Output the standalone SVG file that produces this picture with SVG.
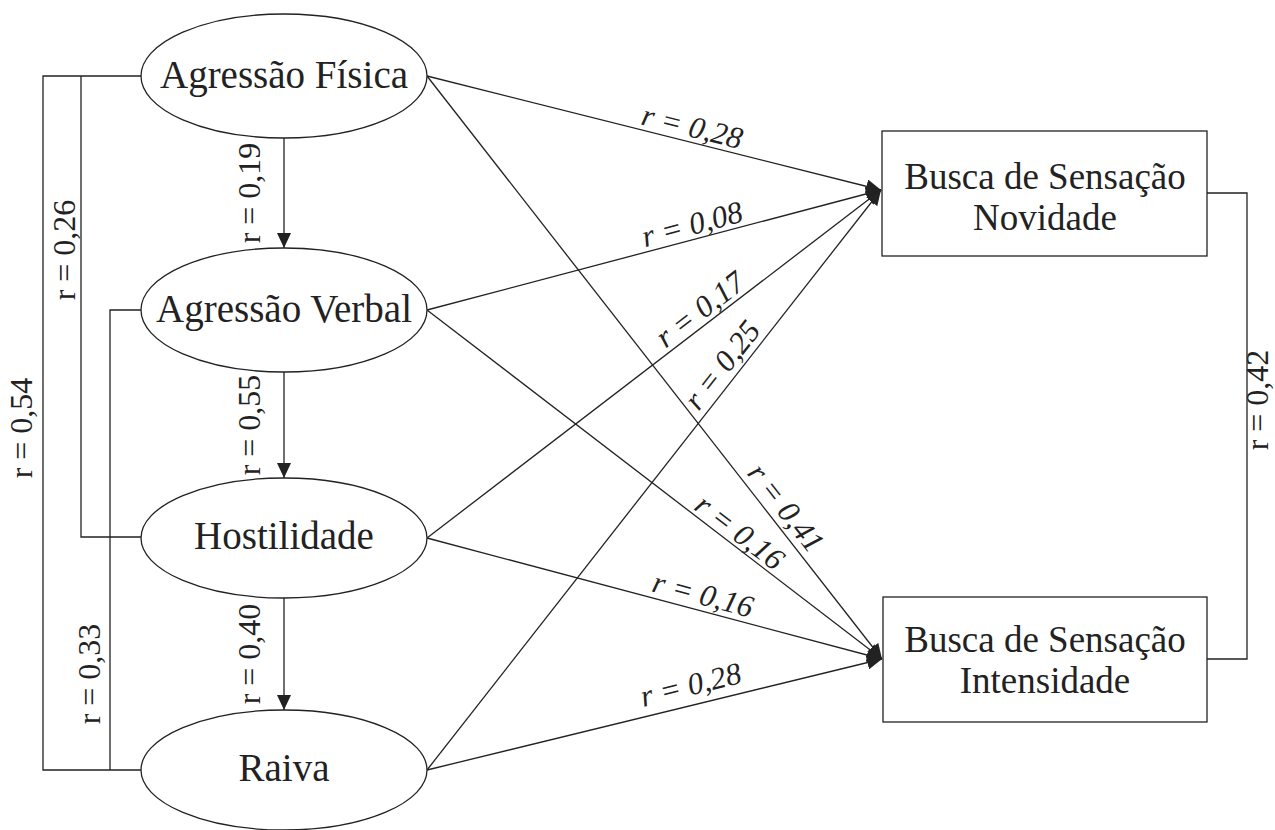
<svg xmlns="http://www.w3.org/2000/svg" width="1275" height="830" viewBox="0 0 1275 830">
<style>
.shape{fill:#fff;stroke:#222;stroke-width:1.3}
.ln{fill:none;stroke:#222;stroke-width:1.3}
.nt{font-family:"Liberation Serif",serif;font-size:39px;fill:#222;text-anchor:middle}
.rt{font-size:37px}
.lb{font-family:"Liberation Serif",serif;font-size:32px;fill:#222;text-anchor:middle}
.it{font-style:italic;font-size:31px}
</style>
<defs>
<marker id="ah" markerUnits="userSpaceOnUse" markerWidth="16" markerHeight="14" refX="15" refY="7" orient="auto">
<path d="M0,0 L15,7 L0,14 Z" fill="#222"/>
</marker>
</defs>
<rect width="1275" height="830" fill="#fff"/>
<g id="connectors">
<path class="ln" d="M141,76 H43 V770 H141"/>
<path class="ln" d="M81,76 V537 H141"/>
<path class="ln" d="M141,310 H110 V770"/>
<path class="ln" d="M1207,193 H1247 V659 H1207"/>
<line class="ln" x1="284" y1="138" x2="284" y2="248" marker-end="url(#ah)"/>
<line class="ln" x1="284" y1="372" x2="284" y2="478" marker-end="url(#ah)"/>
<line class="ln" x1="284" y1="598" x2="284" y2="710" marker-end="url(#ah)"/>
<line class="ln" x1="427" y1="76" x2="881" y2="190" marker-end="url(#ah)"/>
<line class="ln" x1="427" y1="310" x2="881" y2="190" marker-end="url(#ah)"/>
<line class="ln" x1="427" y1="538" x2="881" y2="190" marker-end="url(#ah)"/>
<line class="ln" x1="427" y1="770" x2="881" y2="190" marker-end="url(#ah)"/>
<line class="ln" x1="427" y1="76" x2="882" y2="659" marker-end="url(#ah)"/>
<line class="ln" x1="427" y1="310" x2="882" y2="659" marker-end="url(#ah)"/>
<line class="ln" x1="427" y1="538" x2="882" y2="659" marker-end="url(#ah)"/>
<line class="ln" x1="427" y1="770" x2="882" y2="659" marker-end="url(#ah)"/>
<text class="lb it" transform="translate(688.5,141.5) rotate(14.1)" y="-5">r = 0,28</text>
<text class="lb it" transform="translate(696,239) rotate(-14.8)" y="-5">r = 0,08</text>
<text class="lb it" transform="translate(709.4,321.5) rotate(-37.5)" y="-5">r = 0,17</text>
<text class="lb it" transform="translate(735.7,375.6) rotate(-51.9)" y="-7">r = 0,25</text>
<text class="lb it" transform="translate(772.3,518.4) rotate(52)" y="-7">r = 0,41</text>
<text class="lb it" transform="translate(731.1,543.3) rotate(37.5)" y="-4">r = 0,16</text>
<text class="lb it" transform="translate(698.9,610.3) rotate(14.9)" y="-6">r = 0,16</text>
<text class="lb it" transform="translate(695.4,704.5) rotate(-13.7)" y="-10">r = 0,28</text>
<text class="lb" transform="translate(260,193) rotate(-90)">r = 0,19</text>
<text class="lb" transform="translate(260,425) rotate(-90)">r = 0,55</text>
<text class="lb" transform="translate(260,654) rotate(-90)">r = 0,40</text>
<text class="lb" transform="translate(75,250) rotate(-90)">r = 0,26</text>
<text class="lb" transform="translate(32,428) rotate(-90)">r = 0,54</text>
<text class="lb" transform="translate(100,674) rotate(-90)">r = 0,33</text>
<text class="lb" transform="translate(1268,400) rotate(-90)">r = 0,42</text>
</g>
<g id="agressao-fisica">
<ellipse class="shape" cx="284" cy="76" rx="143" ry="62"/>
<text class="nt" x="284" y="88">Agressão Física</text>
</g>
<g id="agressao-verbal">
<ellipse class="shape" cx="284" cy="310" rx="143" ry="62"/>
<text class="nt" x="284" y="322">Agressão Verbal</text>
</g>
<g id="hostilidade">
<ellipse class="shape" cx="284" cy="538" rx="143" ry="60"/>
<text class="nt" x="284" y="549">Hostilidade</text>
</g>
<g id="raiva">
<ellipse class="shape" cx="284" cy="770" rx="143" ry="60"/>
<text class="nt" x="284" y="781">Raiva</text>
</g>
<g id="busca-novidade">
<rect class="shape" x="882" y="131" width="325" height="125"/>
<text class="nt rt" x="1045" y="189">Busca de Sensação</text>
<text class="nt rt" x="1045" y="230">Novidade</text>
</g>
<g id="busca-intensidade">
<rect class="shape" x="883" y="597" width="324" height="125"/>
<text class="nt rt" x="1045" y="652">Busca de Sensação</text>
<text class="nt rt" x="1045" y="693">Intensidade</text>
</g>
</svg>
